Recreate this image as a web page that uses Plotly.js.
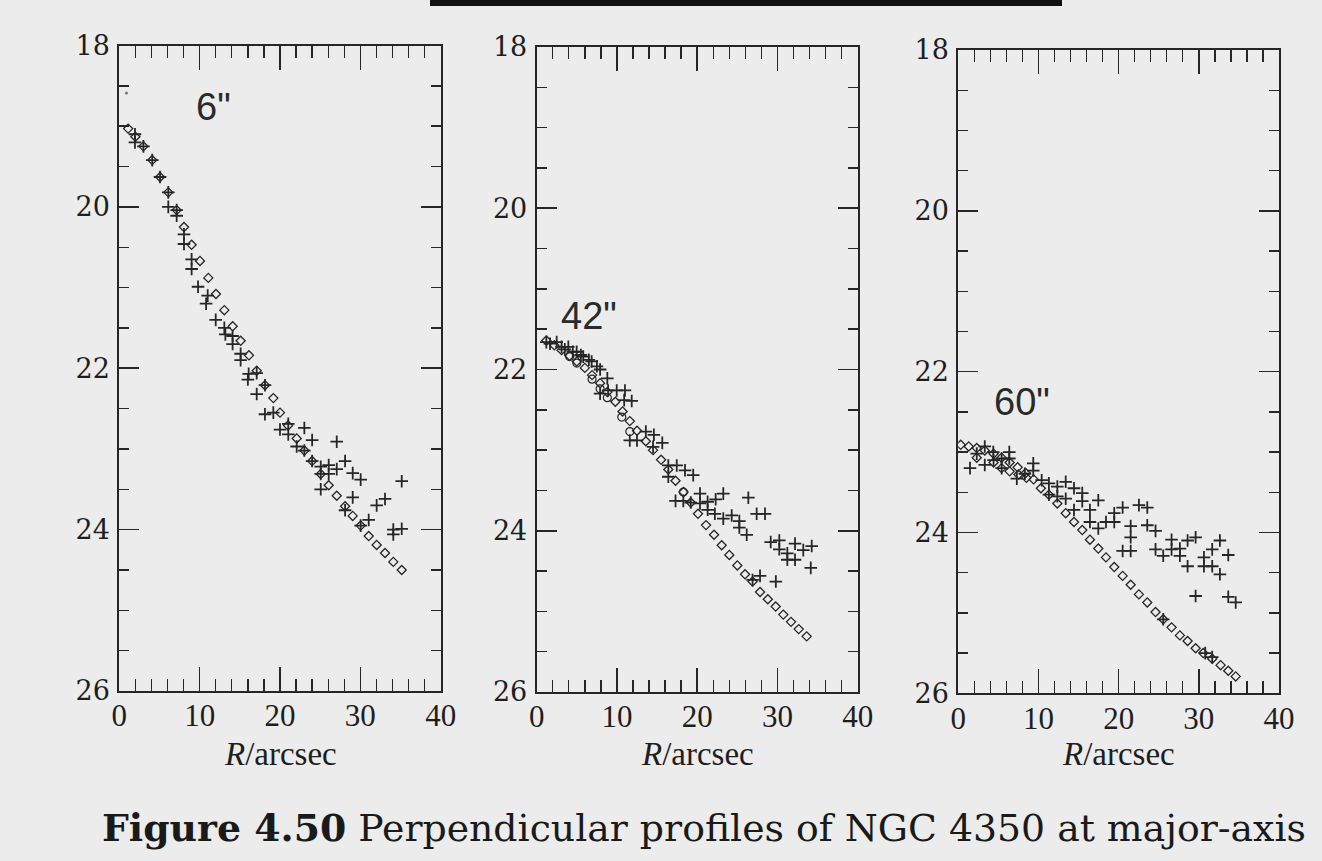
<!DOCTYPE html>
<html>
<head>
<meta charset="utf-8">
<script src="https://cdn.plot.ly/plotly-3.0.1.min.js"></script>
<style>
  html, body { margin: 0; padding: 0; background: #ececec; }
  #chart { width: 1322px; height: 861px; }
</style>
</head>
<body>
<div id="chart"></div>
<script>
// ---------- tick labels ----------
const xTickVals = [0, 10, 20, 30, 40];
const yTickVals = [18, 20, 22, 24, 26];

// ---------- panel 1 (6") ----------
const p1DiamondX = [1.1, 2.0, 3.0, 4.1, 5.07, 6.1, 7.14, 8.05, 9.0, 10.04, 11.08, 12.03, 13.07, 14.11, 15.1, 16.14, 17.1, 18.13, 19.17, 20.0, 21.0, 22.08, 23.03, 24.0, 25.07, 26.06, 27.06, 28.1, 29.05, 30.04, 31.04, 32.03, 33.07, 34.1, 35.15];
const p1DiamondY = [19.03, 19.13, 19.25, 19.42, 19.63, 19.82, 20.04, 20.25, 20.47, 20.67, 20.88, 21.08, 21.28, 21.48, 21.66, 21.84, 22.03, 22.21, 22.37, 22.55, 22.71, 22.87, 23.02, 23.15, 23.31, 23.45, 23.58, 23.71, 23.83, 23.95, 24.08, 24.19, 24.29, 24.40, 24.50];
const p1DotX = [0.9];
const p1DotY = [18.59];
const p1CrossX = [1.95, 1.95, 3.0, 4.1, 5.07, 6.1, 6.1, 7.14, 7.14, 8.05, 8.05, 9.0, 9.0, 9.8, 11.0, 10.8, 12.0, 13.07, 13.2, 14.1, 14.1, 15.1, 15.1, 16.1, 17.1, 16.0, 17.1, 18.13, 18.13, 19.17, 20.0, 21.03, 21.03, 22.08, 23.03, 23.03, 24.0, 24.0, 25.07, 25.07, 26.06, 26.06, 25.07, 27.06, 27.06, 28.1, 28.1, 29.05, 29.05, 30.04, 30.04, 31.04, 32.03, 33.07, 34.1, 34.1, 35.15, 35.15];
const p1CrossY = [19.10, 19.20, 19.25, 19.42, 19.63, 19.82, 20.00, 20.04, 20.11, 20.34, 20.46, 20.65, 20.77, 20.99, 21.10, 21.20, 21.40, 21.50, 21.58, 21.60, 21.70, 21.82, 21.90, 22.07, 22.06, 22.14, 22.32, 22.21, 22.57, 22.55, 22.76, 22.69, 22.82, 22.97, 22.74, 23.02, 22.89, 23.15, 23.22, 23.31, 23.20, 23.31, 23.50, 22.91, 23.25, 23.15, 23.76, 23.30, 23.60, 23.38, 23.95, 23.88, 23.70, 23.62, 24.00, 24.06, 23.99, 23.40];

// ---------- panel 2 (42") ----------
const p2DiamondX = [1.2, 2.2, 3.1, 4.1, 5.0, 6.0, 6.9, 7.9, 8.8, 9.8, 10.7, 11.6, 12.5, 13.6, 14.5, 15.5, 16.4, 17.3, 18.3, 19.2, 20.1, 21.1, 22.1, 23.05, 24.0, 25.0, 25.96, 26.9, 27.83, 28.8, 29.78, 30.73, 31.69, 32.65, 33.64];
const p2DiamondY = [21.64, 21.70, 21.76, 21.83, 21.90, 21.98, 22.07, 22.17, 22.28, 22.40, 22.52, 22.64, 22.76, 22.89, 23.00, 23.12, 23.24, 23.38, 23.52, 23.65, 23.79, 23.93, 24.05, 24.18, 24.30, 24.43, 24.54, 24.63, 24.76, 24.85, 24.94, 25.04, 25.13, 25.22, 25.31];
const p2CircleX = [4.1, 5.0, 6.9, 7.9, 8.8, 10.6, 11.6, 18.27];
const p2CircleY = [21.84, 21.92, 22.12, 22.24, 22.35, 22.59, 22.77, 23.52];
const p2CrossX = [1.2, 1.66, 2.49, 3.1, 3.5, 3.94, 4.5, 4.98, 5.5, 5.8, 6.5, 6.85, 7.5, 7.9, 8.8, 8.9, 7.9, 9.97, 11.0, 10.9, 11.84, 11.6, 12.5, 13.6, 14.6, 15.65, 14.5, 16.4, 17.45, 18.48, 19.5, 16.4, 17.3, 18.27, 19.2, 20.35, 20.35, 21.3, 21.3, 22.3, 23.25, 22.2, 23.25, 24.3, 25.25, 25.25, 26.37, 26.17, 27.41, 28.45, 29.16, 30.23, 30.23, 31.23, 31.23, 32.19, 32.19, 33.22, 34.27, 34.15, 26.9, 27.83, 29.8];
const p2CrossY = [21.66, 21.68, 21.66, 21.72, 21.75, 21.72, 21.78, 21.78, 21.82, 21.84, 21.88, 21.90, 21.96, 22.00, 22.11, 22.26, 22.30, 22.26, 22.26, 22.38, 22.39, 22.88, 22.88, 22.77, 22.81, 22.91, 22.96, 23.19, 23.19, 23.25, 23.31, 23.33, 23.63, 23.63, 23.65, 23.54, 23.66, 23.64, 23.74, 23.61, 23.54, 23.79, 23.85, 23.81, 23.88, 23.96, 23.59, 24.05, 23.79, 23.79, 24.14, 24.12, 24.23, 24.28, 24.36, 24.16, 24.36, 24.24, 24.19, 24.46, 24.61, 24.56, 24.63];

// ---------- panel 3 (60") ----------
const p3DiamondX = [0.3, 1.3, 2.3, 3.3, 4.4, 5.4, 6.4, 7.4, 8.4, 9.4, 10.3, 11.3, 12.35, 13.4, 14.43, 15.46, 16.42, 17.46, 18.42, 19.45, 20.5, 21.5, 22.53, 23.57, 24.6, 25.56, 26.6, 27.64, 28.6, 29.6, 30.55, 31.67, 32.72, 33.67, 34.6];
const p3DiamondY = [22.91, 22.93, 22.95, 22.98, 23.02, 23.07, 23.13, 23.19, 23.26, 23.34, 23.45, 23.53, 23.64, 23.76, 23.87, 23.97, 24.09, 24.20, 24.31, 24.43, 24.54, 24.65, 24.77, 24.87, 24.99, 25.08, 25.18, 25.28, 25.35, 25.44, 25.50, 25.57, 25.65, 25.72, 25.79];
const p3OpenX = [2.3, 4.4, 5.4, 6.4, 7.5, 8.5];
const p3OpenY = [23.07, 23.13, 23.20, 23.24, 23.28, 23.32];
const p3CrossX = [1.46, 2.3, 3.3, 3.3, 4.36, 4.4, 5.41, 5.41, 6.36, 6.36, 7.3, 8.3, 9.35, 9.35, 10.4, 11.3, 11.3, 12.35, 12.35, 13.4, 13.4, 14.43, 14.43, 15.46, 15.46, 16.42, 16.42, 17.46, 17.46, 18.42, 19.45, 19.45, 20.5, 20.5, 21.5, 21.5, 21.5, 22.53, 23.57, 23.57, 24.6, 24.6, 25.56, 26.6, 26.6, 27.64, 27.64, 28.6, 28.6, 29.6, 29.6, 30.64, 30.64, 31.67, 31.67, 32.63, 32.63, 33.67, 33.67, 34.6, 25.56, 31.67, 30.8];
const p3CrossY = [23.20, 23.02, 22.93, 23.16, 23.00, 23.10, 23.08, 23.20, 23.00, 23.08, 23.33, 23.27, 23.14, 23.23, 23.35, 23.39, 23.53, 23.43, 23.55, 23.37, 23.58, 23.45, 23.72, 23.51, 23.61, 23.72, 23.87, 23.60, 23.95, 23.87, 23.76, 23.87, 23.69, 24.23, 23.92, 24.06, 24.23, 23.66, 23.69, 23.91, 23.98, 24.21, 24.29, 24.09, 24.21, 24.20, 24.29, 24.10, 24.42, 24.06, 24.79, 24.31, 24.42, 24.21, 24.42, 24.10, 24.52, 24.28, 24.80, 24.87, 25.08, 25.55, 25.50];

// ---------- texts ----------
const panelLabels = ['6"', '42"', '60"'];
const xTitle = '<i>R</i>/arcsec';
const captionBold = 'Figure 4.50';
const captionRest = ' Perpendicular profiles of NGC 4350 at major-axis';

// ---------- build ----------
const ink = '#262626';
const diamondMarker = {symbol: 'diamond-open', size: 7, color: ink, line: {color: ink, width: 1.3}};
const circleMarker = {symbol: 'circle-open', size: 8, color: ink, line: {color: ink, width: 1.2}};
const crossMarker = {symbol: 'cross-thin-open', size: 9, color: ink, line: {color: ink, width: 1.8}};
const dotMarker = {symbol: 'circle', size: 3, color: '#777'};

function pts(x, y, marker, ax) {
  return {type: 'scatter', mode: 'markers', x: x, y: y, marker: marker,
          xaxis: ax[0], yaxis: ax[1], showlegend: false, hoverinfo: 'skip'};
}
const A1 = ['x', 'y'], A2 = ['x2', 'y2'], A3 = ['x3', 'y3'];
const data = [
  pts(p1DiamondX, p1DiamondY, diamondMarker, A1),
  pts(p1DotX, p1DotY, dotMarker, A1),
  pts(p1CrossX, p1CrossY, crossMarker, A1),
  pts(p2DiamondX, p2DiamondY, diamondMarker, A2),
  pts(p2CircleX, p2CircleY, circleMarker, A2),
  pts(p2CrossX, p2CrossY, crossMarker, A2),
  pts(p3DiamondX, p3DiamondY, diamondMarker, A3),
  pts(p3OpenX, p3OpenY, diamondMarker, A3),
  pts(p3CrossX, p3CrossY, crossMarker, A3),
  // empty traces that carry the mirrored (top / right) tick axes
  pts([], [], dotMarker, ['x4', 'y4']),
  pts([], [], dotMarker, ['x5', 'y5']),
  pts([], [], dotMarker, ['x6', 'y6'])
];

const W = 1322, H = 861;
const xMajor = {ticks: 'inside', ticklen: 24, tickwidth: 1.6, tickcolor: ink};
const xMinor = {dtick: 2, tick0: 0, ticks: 'inside', ticklen: 12, tickwidth: 1.4, tickcolor: ink};
const yMajor = {ticks: 'inside', ticklen: 20, tickwidth: 1.6, tickcolor: ink};
const yMinor = {dtick: 0.5, tick0: 18, ticks: 'inside', ticklen: 10, tickwidth: 1.4, tickcolor: ink};

function xAxis(l, r, anchor) {
  return Object.assign({
    domain: [l / W, r / W], anchor: anchor, range: [0, 40],
    tickmode: 'array', tickvals: xTickVals, ticktext: xTickVals.map(String),
    minor: xMinor,
    showline: true, linecolor: ink, linewidth: 2, mirror: true,
    showgrid: false, zeroline: false, automargin: false,
    tickfont: {family: 'Liberation Serif, serif', size: 31, color: '#1e1e1e'},
    ticklabelstandoff: -4
  }, xMajor);
}
function xMirror(over, anchor) {
  return Object.assign({
    overlaying: over, anchor: anchor, side: 'top', range: [0, 40],
    tickmode: 'array', tickvals: xTickVals, showticklabels: false,
    minor: xMinor, showline: false, showgrid: false, zeroline: false
  }, xMajor);
}
function yAxis(top, bot, anchor) {
  return Object.assign({
    domain: [1 - bot / H, 1 - top / H], anchor: anchor, range: [26, 18],
    tickmode: 'array', tickvals: yTickVals, ticktext: yTickVals.map(String),
    minor: yMinor,
    showline: true, linecolor: ink, linewidth: 2, mirror: true,
    showgrid: false, zeroline: false, automargin: false,
    tickfont: {family: 'DejaVu Serif, serif', size: 27, color: '#1e1e1e'},
    ticklabelstandoff: 2
  }, yMajor);
}
function yMirror(over, anchor) {
  return Object.assign({
    overlaying: over, anchor: anchor, side: 'right', range: [26, 18],
    tickmode: 'array', tickvals: yTickVals, showticklabels: false,
    minor: yMinor, showline: false, showgrid: false, zeroline: false
  }, yMajor);
}

const annFont = {family: 'Liberation Sans, Arial, sans-serif', size: 38, color: '#2a2a2a'};
const titleFont = {family: 'Liberation Serif, serif', size: 33, color: '#1e1e1e'};
function xTitleAnn(xref) {
  return {xref: xref + ' domain', yref: 'paper', x: 0.5, y: 1 - 754 / H, xanchor: 'center', yanchor: 'middle',
          showarrow: false, text: xTitle, font: titleFont};
}
const layout = {
  width: W, height: H,
  margin: {l: 0, r: 0, t: 0, b: 0},
  paper_bgcolor: '#ececec', plot_bgcolor: 'rgba(0,0,0,0)',
  xaxis: xAxis(119.3, 440.7, 'y'),
  yaxis: yAxis(45.5, 691, 'x'),
  xaxis2: xAxis(536.7, 857.7, 'y2'),
  yaxis2: yAxis(47, 692, 'x2'),
  xaxis3: xAxis(958.3, 1279, 'y3'),
  yaxis3: yAxis(50, 693.3, 'x3'),
  xaxis4: xMirror('x', 'y'),
  yaxis4: yMirror('y', 'x'),
  xaxis5: xMirror('x2', 'y2'),
  yaxis5: yMirror('y2', 'x2'),
  xaxis6: xMirror('x3', 'y3'),
  yaxis6: yMirror('y3', 'x3'),
  annotations: [
    {xref: 'x', yref: 'y', x: 9.3, y: 18.76, text: panelLabels[0], showarrow: false, xanchor: 'left', yanchor: 'middle', font: annFont},
    {xref: 'x2', yref: 'y2', x: 2.8, y: 21.34, text: panelLabels[1], showarrow: false, xanchor: 'left', yanchor: 'middle', font: annFont},
    {xref: 'x3', yref: 'y3', x: 4.2, y: 22.38, text: panelLabels[2], showarrow: false, xanchor: 'left', yanchor: 'middle', font: annFont},
    xTitleAnn('x'), xTitleAnn('x2'), xTitleAnn('x3'),
    {xref: 'paper', yref: 'paper', x: 100 / W, y: 1 - 828 / H, xanchor: 'left', yanchor: 'middle', showarrow: false,
     text: '<b>' + captionBold + '</b>' + captionRest,
     font: {family: 'DejaVu Serif, serif', size: 37.8, color: '#1a1a1a'}}
  ],
  shapes: [
    {type: 'rect', xref: 'paper', yref: 'paper', x0: 430 / W, x1: 1062 / W, y0: 1 - 6 / H, y1: 1.01,
     fillcolor: '#111', line: {width: 0}}
  ]
};

Plotly.newPlot('chart', data, layout, {staticPlot: true, displayModeBar: false});
</script>
</body>
</html>
